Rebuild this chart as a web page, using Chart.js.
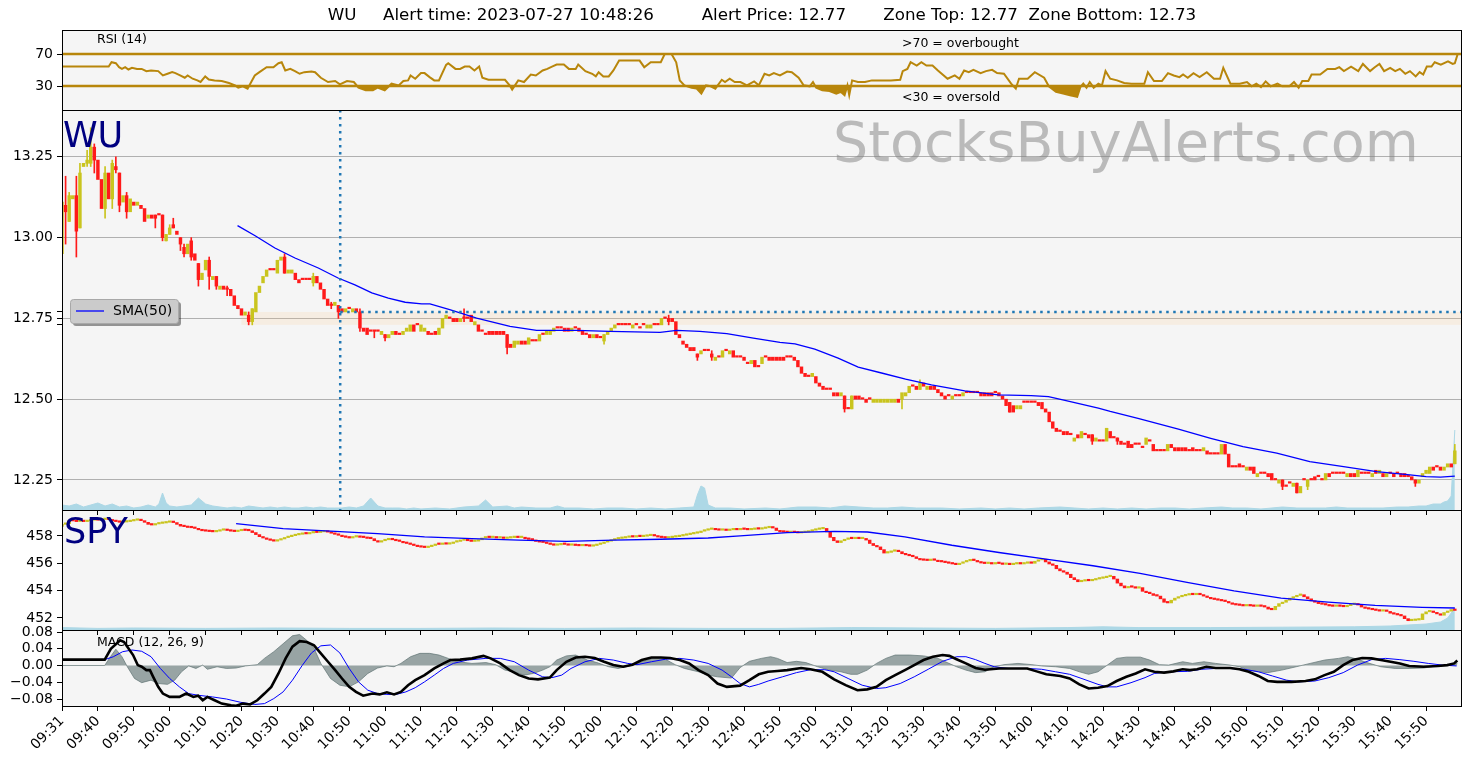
<!DOCTYPE html>
<html>
<head>
<meta charset="utf-8">
<title>WU alert chart</title>
<script src="https://cdn.jsdelivr.net/npm/chart.js@4.4.1/dist/chart.umd.min.js"></script>
<style>
  html, body { margin: 0; padding: 0; background: #fff; }
  #wrap { position: relative; width: 1476px; height: 768px; }
  #wrap canvas { position: absolute; left: 0; top: 0; }
</style>
</head>
<body>
<div id="wrap">
  <canvas id="macdChart" width="1476" height="768"></canvas>
  <canvas id="spyChart" width="1476" height="768"></canvas>
  <canvas id="wuChart" width="1476" height="768"></canvas>
  <canvas id="rsiChart" width="1476" height="768"></canvas>
</div>
<script>
// x axis is minutes after 09:30
const tickMinutes = [0,10,20,30,40,50,60,70,80,90,100,110,120,130,140,150,160,170,180,190,
  200,210,220,230,240,250,260,270,280,290,300,310,320,330,340,350,360,370,380];
const tickLabels = ['09:31','09:40','09:50','10:00','10:10','10:20','10:30','10:40','10:50','11:00',
  '11:10','11:20','11:30','11:40','11:50','12:00','12:10','12:20','12:30','12:40','12:50','13:00',
  '13:10','13:20','13:30','13:40','13:50','14:00','14:10','14:20','14:30','14:40','14:50','15:00',
  '15:10','15:20','15:30','15:40','15:50'];

const titleText = 'WU     Alert time: 2023-07-27 10:48:26         Alert Price: 12.77       Zone Top: 12.77  Zone Bottom: 12.73';
const alertMinute = 77.5;
const alertPrice = 12.77;
const zoneTop = 12.77;
const zoneBottom = 12.73;
const zoneStartMinute = 50;

// WU one-minute candles
const wuOpen = [
  12.95,13.10,13.05,13.12,13.13,13.03,13.22,13.23,13.23,13.28,
  13.24,13.18,13.09,13.20,13.12,13.22,13.20,13.11,13.13,13.08,
  13.11,13.10,13.10,13.09,13.06,13.07,13.07,13.07,13.07,12.99,
  13.01,13.04,13.02,13.00,12.97,12.95,12.99,12.95,12.92,12.87,
  12.90,12.93,12.87,12.88,12.84,12.85,12.84,12.84,12.82,12.79,
  12.78,12.76,12.76,12.74,12.77,12.83,12.86,12.88,12.90,12.90,
  12.89,12.93,12.94,12.89,12.89,12.89,12.87,12.87,12.87,12.87,
  12.86,12.88,12.86,12.84,12.81,12.79,12.79,12.79,12.78,12.77,
  12.78,12.77,12.78,12.77,12.72,12.72,12.71,12.71,12.71,12.70,
  12.70,12.69,12.70,12.71,12.70,12.70,12.71,12.71,12.73,12.73,
  12.71,12.71,12.71,12.70,12.71,12.70,12.72,12.75,12.75,12.75,
  12.75,12.74,12.75,12.75,12.76,12.73,12.73,12.71,12.70,12.71,
  12.71,12.71,12.71,12.71,12.70,12.67,12.66,12.67,12.68,12.68,
  12.67,12.68,12.68,12.68,12.70,12.70,12.70,12.71,12.72,12.72,
  12.72,12.72,12.71,12.72,12.72,12.71,12.70,12.70,12.69,12.70,
  12.69,12.68,12.70,12.71,12.72,12.73,12.73,12.73,12.73,12.72,
  12.73,12.72,12.73,12.72,12.72,12.73,12.73,12.73,12.75,12.75,
  12.75,12.74,12.70,12.68,12.67,12.66,12.66,12.64,12.64,12.65,
  12.65,12.64,12.62,12.63,12.63,12.65,12.64,12.65,12.63,12.63,
  12.63,12.61,12.61,12.62,12.60,12.61,12.63,12.63,12.63,12.63,
  12.63,12.63,12.63,12.63,12.63,12.62,12.60,12.58,12.57,12.57,
  12.57,12.55,12.54,12.53,12.53,12.52,12.52,12.51,12.51,12.47,
  12.47,12.51,12.51,12.50,12.50,12.50,12.49,12.49,12.49,12.49,
  12.49,12.49,12.49,12.50,12.50,12.51,12.52,12.54,12.54,12.53,
  12.55,12.53,12.54,12.54,12.53,12.52,12.51,12.51,12.50,12.51,
  12.51,12.51,12.52,12.52,12.52,12.52,12.52,12.52,12.52,12.52,
  12.52,12.52,12.51,12.50,12.49,12.48,12.47,12.47,12.49,12.49,
  12.49,12.49,12.49,12.49,12.47,12.46,12.43,12.41,12.40,12.40,
  12.40,12.39,12.37,12.39,12.38,12.39,12.39,12.39,12.37,12.37,
  12.37,12.37,12.40,12.38,12.38,12.37,12.36,12.37,12.36,12.36,
  12.36,12.35,12.36,12.37,12.36,12.34,12.34,12.34,12.34,12.36,
  12.35,12.35,12.35,12.35,12.34,12.35,12.34,12.34,12.34,12.34,
  12.33,12.33,12.33,12.33,12.36,12.33,12.29,12.29,12.30,12.29,
  12.28,12.29,12.29,12.26,12.27,12.27,12.27,12.27,12.25,12.24,
  12.25,12.23,12.24,12.23,12.24,12.21,12.25,12.23,12.25,12.26,
  12.26,12.25,12.25,12.27,12.27,12.27,12.27,12.27,12.26,12.27,
  12.27,12.26,12.27,12.27,12.27,12.26,12.28,12.27,12.27,12.26,
  12.27,12.27,12.27,12.27,12.27,12.26,12.26,12.25,12.24,12.26,
  12.27,12.27,12.29,12.29,12.29,12.28,12.29,12.30,12.30
];
const wuClose = [
  13.11,13.08,13.13,13.13,13.02,13.20,13.23,13.24,13.28,13.24,
  13.18,13.09,13.20,13.12,13.23,13.21,13.10,13.13,13.08,13.12,
  13.10,13.11,13.09,13.05,13.07,13.06,13.06,13.07,13.00,13.01,
  13.03,13.03,13.01,12.98,12.95,12.98,12.94,12.93,12.87,12.89,
  12.93,12.88,12.88,12.85,12.85,12.84,12.84,12.82,12.79,12.78,
  12.76,12.77,12.74,12.78,12.83,12.85,12.88,12.90,12.90,12.90,
  12.93,12.94,12.89,12.90,12.90,12.87,12.86,12.87,12.87,12.87,
  12.88,12.86,12.84,12.81,12.79,12.79,12.80,12.77,12.77,12.78,
  12.78,12.78,12.77,12.72,12.71,12.70,12.71,12.71,12.71,12.71,
  12.69,12.70,12.71,12.70,12.70,12.71,12.72,12.73,12.71,12.73,
  12.73,12.72,12.70,12.70,12.70,12.72,12.75,12.76,12.75,12.74,
  12.74,12.75,12.75,12.75,12.74,12.74,12.71,12.71,12.70,12.70,
  12.70,12.70,12.70,12.70,12.66,12.66,12.68,12.68,12.67,12.67,
  12.69,12.68,12.68,12.70,12.70,12.71,12.71,12.72,12.72,12.72,
  12.71,12.71,12.72,12.72,12.71,12.70,12.70,12.69,12.70,12.69,
  12.69,12.70,12.71,12.72,12.73,12.73,12.73,12.73,12.73,12.73,
  12.73,12.72,12.73,12.73,12.73,12.73,12.73,12.75,12.75,12.74,
  12.74,12.70,12.69,12.67,12.66,12.65,12.65,12.63,12.65,12.65,
  12.65,12.63,12.63,12.63,12.65,12.65,12.65,12.63,12.63,12.63,
  12.62,12.61,12.62,12.60,12.60,12.63,12.63,12.62,12.62,12.62,
  12.62,12.62,12.63,12.63,12.62,12.60,12.58,12.57,12.57,12.58,
  12.55,12.54,12.53,12.53,12.53,12.51,12.51,12.52,12.47,12.47,
  12.51,12.50,12.50,12.50,12.49,12.50,12.50,12.50,12.50,12.50,
  12.50,12.50,12.50,12.49,12.52,12.52,12.54,12.54,12.53,12.55,
  12.54,12.54,12.53,12.53,12.52,12.51,12.50,12.51,12.51,12.51,
  12.51,12.52,12.52,12.52,12.52,12.52,12.51,12.51,12.51,12.51,
  12.52,12.51,12.50,12.48,12.46,12.46,12.48,12.48,12.49,12.49,
  12.49,12.49,12.48,12.47,12.46,12.43,12.41,12.40,12.40,12.39,
  12.39,12.39,12.38,12.38,12.40,12.39,12.38,12.37,12.38,12.37,
  12.37,12.41,12.38,12.38,12.37,12.36,12.36,12.35,12.35,12.36,
  12.36,12.35,12.38,12.37,12.34,12.34,12.34,12.34,12.36,12.35,
  12.34,12.34,12.34,12.34,12.34,12.34,12.34,12.34,12.35,12.33,
  12.33,12.33,12.33,12.36,12.33,12.29,12.29,12.29,12.29,12.29,
  12.29,12.28,12.27,12.27,12.27,12.27,12.26,12.25,12.25,12.25,
  12.23,12.23,12.24,12.24,12.21,12.23,12.25,12.25,12.25,12.25,
  12.26,12.25,12.27,12.26,12.27,12.27,12.27,12.27,12.27,12.26,
  12.26,12.28,12.27,12.27,12.27,12.27,12.27,12.28,12.26,12.27,
  12.27,12.26,12.27,12.26,12.26,12.26,12.25,12.24,12.25,12.27,
  12.28,12.29,12.28,12.29,12.28,12.29,12.30,12.29,12.34
];
// visible WU wicks: minute, high, low
const wuWickMin = [0,1,2,4,5,7,8,9,12,14,15,16,18,26,28,29,30,31,33,34,36,38,41,43,46,52,53,62,70,75,
  77,83,87,90,112,124,151,169,177,181,218,220,234,239,264,287,294,340,344,347,377,388];
const wuWickHigh = [13.12,13.19,13.14,13.19,13.23,13.27,13.34,13.29,13.22,13.24,13.25,13.20,13.14,13.07,
  13.07,13.01,13.04,13.06,13.00,12.98,13.00,12.92,12.94,12.88,12.85,12.77,12.78,12.95,12.89,12.80,
  12.79,12.78,12.71,12.70,12.78,12.70,12.70,12.76,12.64,12.65,12.51,12.51,12.50,12.56,12.49,12.39,
  12.38,12.25,12.24,12.25,12.25,12.36];
const wuWickLow = [12.94,12.98,13.05,12.94,13.03,13.22,13.22,13.20,13.06,13.09,13.20,13.08,13.06,13.03,
  12.99,12.99,13.01,13.03,12.96,12.94,12.93,12.85,12.84,12.84,12.82,12.73,12.73,12.89,12.85,12.78,
  12.75,12.71,12.69,12.68,12.74,12.64,12.67,12.73,12.62,12.62,12.46,12.47,12.47,12.53,12.46,12.36,
  12.36,12.22,12.21,12.22,12.23,12.30];
const wuSmaMin = [48.9,53.8,59.3,64.9,71.4,76.9,81.6,86.3,90.9,95.6,100.2,102.5,108,115.5,124.8,132.2,
  143.4,152.6,166.6,171.2,177.7,185.2,192.6,200,204.2,209.7,216.2,221.8,228.3,235,242.2,251.5,260.8,
  270,274.8,279.4,288.7,292,300,311,320,329,338.4,347.6,357,366.2,375.5,380,384,388];
const wuSmaVal = [13.037,13.006,12.968,12.937,12.906,12.875,12.854,12.829,12.813,12.800,12.795,12.795,
  12.777,12.751,12.725,12.713,12.713,12.710,12.707,12.713,12.710,12.703,12.689,12.676,12.671,12.655,
  12.627,12.599,12.581,12.562,12.544,12.526,12.513,12.511,12.508,12.496,12.472,12.462,12.440,12.407,
  12.379,12.353,12.333,12.307,12.291,12.276,12.266,12.260,12.259,12.262];
// volume, thousands of shares
const wuVolMin = [0,2,4,6,8,10,12,14,16,18,20,22,24,26,27,28,29,30,32,34,36,38,40,42,44,46,48,50,52,54,
  56,58,60,62,64,66,68,70,72,74,76,78,80,82,84,86,88,90,92,94,96,98,100,104,108,112,116,118,120,124,
  126,128,132,136,138,140,144,148,152,156,160,164,168,172,176,177,178,179,180,182,186,190,196,200,205,
  210,214,218,222,226,230,234,238,242,245,250,256,260,264,268,272,278,282,286,290,294,298,302,306,310,
  314,318,323,326,330,334,340,344,348,352,355,358,362,365,368,372,375,378,380,382,384,385,386,387,388];
const wuVolVal = [10,8,12,6,10,14,8,12,6,8,4,6,10,6,12,34,14,8,6,8,10,24,12,8,6,4,6,4,8,6,
  4,6,4,6,4,4,6,4,6,4,4,4,6,4,8,24,8,4,4,4,2,4,2,4,2,6,8,20,6,8,
  4,6,4,4,8,4,4,2,4,4,2,4,2,4,6,30,48,44,10,4,4,2,4,2,6,
  6,4,8,6,4,4,6,4,4,4,2,4,2,4,2,4,6,4,2,4,2,4,2,4,4,
  2,4,6,4,4,2,6,4,4,4,6,4,4,4,4,6,6,8,8,12,12,16,18,28,160];

// SPY one-minute candles
const spyOpen = [
  458.70,458.85,458.90,459.15,459.10,459.05,459.10,459.05,459.10,459.15,
  459.20,459.15,459.20,459.25,459.20,459.10,459.05,459.00,459.02,459.05,
  459.10,459.15,459.18,459.12,459.00,458.85,458.80,458.88,458.92,458.95,
  459.00,459.05,458.98,458.85,458.72,458.68,458.62,458.60,458.55,458.45,
  458.38,458.35,458.32,458.30,458.35,458.42,458.45,458.40,458.35,458.32,
  458.38,458.42,458.40,458.38,458.25,458.10,457.95,457.85,457.75,457.68,
  457.62,457.70,457.78,457.88,457.95,458.02,458.08,458.12,458.20,458.15,
  458.22,458.28,458.25,458.30,458.32,458.28,458.20,458.12,458.05,457.95,
  457.90,457.85,457.92,457.95,457.90,457.88,457.82,457.80,457.65,457.55,
  457.65,457.72,457.80,457.72,457.65,457.60,457.50,457.45,457.38,457.30,
  457.22,457.18,457.15,457.22,457.30,457.40,457.38,457.42,457.40,457.45,
  457.55,457.60,457.68,457.72,457.65,457.60,457.62,457.72,457.85,457.92,
  457.88,457.92,457.85,457.88,457.82,457.85,457.88,457.92,457.88,457.90,
  457.80,457.75,457.70,457.60,457.55,457.52,457.45,457.38,457.32,457.35,
  457.40,457.38,457.32,457.35,457.30,457.28,457.32,457.28,457.25,457.30,
  457.38,457.45,457.55,457.62,457.70,457.78,457.82,457.85,457.90,457.95,
  457.92,457.98,457.95,457.98,458.02,458.05,458.00,457.92,457.88,457.85,
  457.88,457.92,457.95,458.00,458.05,458.10,458.15,458.20,458.25,458.35,
  458.42,458.48,458.50,458.45,458.42,458.45,458.40,458.45,458.48,458.45,
  458.50,458.48,458.45,458.48,458.52,458.50,458.55,458.60,458.62,458.58,
  458.40,458.30,458.28,458.25,458.28,458.25,458.22,458.25,458.28,458.35,
  458.42,458.48,458.52,458.55,458.30,457.90,457.65,457.52,457.65,457.75,
  457.82,457.80,457.85,457.80,457.82,457.70,457.45,457.30,457.20,457.00,
  456.75,456.80,456.88,456.92,456.85,456.70,456.62,456.55,456.48,456.35,
  456.25,456.22,456.20,456.28,456.22,456.12,456.10,456.05,456.00,455.95,
  455.90,456.00,456.10,456.18,456.22,456.20,456.10,456.02,455.98,456.00,
  455.95,456.00,455.98,455.92,455.95,455.90,455.95,456.00,455.95,456.00,
  456.05,456.00,456.15,456.25,456.30,456.10,455.95,455.85,455.60,455.45,
  455.35,455.20,454.95,454.80,454.65,454.70,454.75,454.72,454.78,454.85,
  454.90,454.95,455.02,455.05,454.85,454.55,454.35,454.20,454.30,454.25,
  454.18,454.22,453.95,453.85,453.78,453.65,453.60,453.40,453.15,453.10,
  453.30,453.45,453.55,453.62,453.68,453.72,453.70,453.75,453.70,453.60,
  453.50,453.40,453.35,453.30,453.25,453.20,453.10,453.00,452.95,452.92,
  452.88,452.92,452.88,452.85,452.90,452.85,452.80,452.65,452.60,452.85,
  453.05,453.15,453.30,453.45,453.55,453.65,453.70,453.55,453.40,453.25,
  453.15,453.05,453.00,452.95,452.88,452.85,452.90,452.85,452.82,452.90,
  452.98,453.02,452.95,452.80,452.70,452.65,452.60,452.55,452.50,452.55,
  452.48,452.35,452.28,452.22,452.15,451.95,451.80,451.82,451.85,451.88,
  452.30,452.45,452.48,452.40,452.30,452.20,452.40,452.50,452.62
];
const spyClose = [
  458.85,458.90,459.15,459.10,459.05,459.10,459.05,459.10,459.15,459.20,
  459.15,459.20,459.25,459.20,459.10,459.05,459.00,459.02,459.05,459.10,
  459.15,459.18,459.12,459.00,458.85,458.80,458.88,458.92,458.95,459.00,
  459.05,458.98,458.85,458.72,458.68,458.62,458.60,458.55,458.45,458.38,
  458.35,458.32,458.30,458.35,458.42,458.45,458.40,458.35,458.32,458.38,
  458.42,458.40,458.38,458.25,458.10,457.95,457.85,457.75,457.68,457.62,
  457.70,457.78,457.88,457.95,458.02,458.08,458.12,458.20,458.15,458.22,
  458.28,458.25,458.30,458.32,458.28,458.20,458.12,458.05,457.95,457.90,
  457.85,457.92,457.95,457.90,457.88,457.82,457.80,457.65,457.55,457.65,
  457.72,457.80,457.72,457.65,457.60,457.50,457.45,457.38,457.30,457.22,
  457.18,457.15,457.22,457.30,457.40,457.38,457.42,457.40,457.45,457.55,
  457.60,457.68,457.72,457.65,457.60,457.62,457.72,457.85,457.92,457.88,
  457.92,457.85,457.88,457.82,457.85,457.88,457.92,457.88,457.90,457.80,
  457.75,457.70,457.60,457.55,457.52,457.45,457.38,457.32,457.35,457.40,
  457.38,457.32,457.35,457.30,457.28,457.32,457.28,457.25,457.30,457.38,
  457.45,457.55,457.62,457.70,457.78,457.82,457.85,457.90,457.95,457.92,
  457.98,457.95,457.98,458.02,458.05,458.00,457.92,457.88,457.85,457.88,
  457.92,457.95,458.00,458.05,458.10,458.15,458.20,458.25,458.35,458.42,
  458.48,458.50,458.45,458.42,458.45,458.40,458.45,458.48,458.45,458.50,
  458.48,458.45,458.48,458.52,458.50,458.55,458.60,458.62,458.58,458.40,
  458.30,458.28,458.25,458.28,458.25,458.22,458.25,458.28,458.35,458.42,
  458.48,458.52,458.55,458.30,457.90,457.65,457.52,457.65,457.75,457.82,
  457.80,457.85,457.80,457.82,457.70,457.45,457.30,457.20,457.00,456.75,
  456.80,456.88,456.92,456.85,456.70,456.62,456.55,456.48,456.35,456.25,
  456.22,456.20,456.28,456.22,456.12,456.10,456.05,456.00,455.95,455.90,
  456.00,456.10,456.18,456.22,456.20,456.10,456.02,455.98,456.00,455.95,
  456.00,455.98,455.92,455.95,455.90,455.95,456.00,455.95,456.00,456.05,
  456.00,456.15,456.25,456.30,456.10,455.95,455.85,455.60,455.45,455.35,
  455.20,454.95,454.80,454.65,454.70,454.75,454.72,454.78,454.85,454.90,
  454.95,455.02,455.05,454.85,454.55,454.35,454.20,454.30,454.25,454.18,
  454.22,453.95,453.85,453.78,453.65,453.60,453.40,453.15,453.10,453.30,
  453.45,453.55,453.62,453.68,453.72,453.70,453.75,453.70,453.60,453.50,
  453.40,453.35,453.30,453.25,453.20,453.10,453.00,452.95,452.92,452.88,
  452.92,452.88,452.85,452.90,452.85,452.80,452.65,452.60,452.85,453.05,
  453.15,453.30,453.45,453.55,453.65,453.70,453.55,453.40,453.25,453.15,
  453.05,453.00,452.95,452.88,452.85,452.90,452.85,452.82,452.90,452.98,
  453.02,452.95,452.80,452.70,452.65,452.60,452.55,452.50,452.55,452.48,
  452.35,452.28,452.22,452.15,451.95,451.80,451.82,451.85,451.88,452.30,
  452.45,452.48,452.40,452.30,452.20,452.40,452.50,452.62,452.55
];
const spySmaMin = [48.5,61.6,74.8,87.9,101,114.2,127.3,140.5,153.6,166.8,180,188.9,202,215.1,224.4,
  234.8,247.9,261,274.1,287.2,300.3,313.4,326.5,339.6,352.7,365.8,378.9,388];
const spySmaVal = [458.90,458.53,458.36,458.17,457.93,457.81,457.69,457.61,457.69,457.76,457.85,458.00,
  458.24,458.34,458.29,457.93,457.32,456.79,456.31,455.82,455.27,454.61,453.99,453.45,453.16,452.92,
  452.78,452.73];
const spyVolMin = [0,10,20,40,60,80,100,120,140,160,180,200,220,240,260,280,290,300,320,340,360,370,380,384,386,388];
const spyVolVal = [60,40,50,40,50,40,40,50,40,50,40,40,60,50,40,60,80,60,60,70,80,100,150,200,300,550];

// RSI (14)
const rsiMin = [0,13,13.8,15,15.9,16.7,17.6,18.5,19.5,20.9,22.2,23.5,24.8,26.8,28.1,29.4,30.7,31.6,32.9,
  34.2,35,36.4,37.7,38.6,39.9,40.9,42.5,44.5,46.5,48.2,49.1,50.4,51.7,53.7,55,57,58.9,60.3,61.2,62.2,
  63.6,64.9,66.2,67.5,69.5,70.5,72.1,74.1,76.1,77.4,79.4,81.3,82.6,84.6,86.6,87.9,89.9,91.8,93.8,95.1,
  96.4,97.1,98.4,100,101,102.4,103.7,105,107,107.6,109.6,110.9,112.2,113.5,114.9,116.2,117.1,118.8,
  120.8,123.4,124.7,125.4,127.1,128.7,130.6,132,133.9,135.2,136.5,137.8,139.8,141.2,143.1,143.8,145.8,
  147.7,148.7,149.5,150.8,152.3,153.6,155.2,157.6,160.9,162.2,164,166.8,167.9,169.8,171.1,172.1,173.4,
  175.4,176.8,178.1,179.4,180.7,182,183.8,184.7,186,187.4,189,190.8,192.8,194.1,195.7,197,198.3,200,
  202,203.3,205.2,206.6,208.3,209.2,210.1,211.8,213.8,215.7,217,218,218.8,219.3,220.1,221.7,223.7,
  225.6,230.9,233.5,234.2,235.5,236.4,238.1,239.4,240.8,242.5,244,246.7,248.7,250,251.3,252.6,253.9,
  255.9,257.4,259.1,260.5,262.4,264.4,265.7,266.6,269,271,273.6,274.9,276.9,278.9,280.8,282.8,283.7,
  284.5,285.4,286.3,287.4,288.7,289.7,290.7,292,293.9,295.9,297.9,301.5,302.5,304.2,306.4,308.1,309.7,
  311.3,312.3,313.6,315.2,316.9,318.9,320.9,322.6,323.5,325.5,328.1,330.1,331.4,332.7,334,335.3,336.7,
  338.6,339.9,341.9,343.2,344.5,345.5,347.2,348.1,350.5,352.5,354.7,355.8,357.1,359.1,361.1,362.4,
  364.4,365.7,367,368.3,370,371.4,372.7,374.2,375.5,377.1,378.2,379.2,380.2,381.5,382.4,384.1,386.1,
  387.4,388,388.8];
const rsiVal = [54.3,54.3,59.7,58.5,53.5,51.4,53.5,50.6,52.7,51.4,51.4,48.6,49.4,48.6,43.2,45.3,47.3,46.1,
  43.2,40.3,43.2,39.1,37,35,42,38.2,37,36.2,33.7,30.8,27.9,29.6,26.7,43.2,47.3,53.5,53.5,58.5,59.7,
  49.4,51.4,48.6,45.3,47.3,48.1,47.3,40.3,35,36.2,32.1,36.2,35,27.9,24.6,24.6,27.9,24.6,32.9,30.8,36.2,
  37,43.2,39.1,46.1,46.1,41.1,37,37,56.4,58.5,51.4,51.4,54.3,54.3,49.4,54.3,40.3,37.8,
  37.8,37.8,30.8,25.5,37,35,44.4,43.2,49.4,51.4,54.3,56.8,56.8,51.4,51.4,56.8,48.6,
  45.3,42,47.3,42,42,49.4,61.8,61.8,61.8,53.5,59.7,59.7,70,70,59.7,37,30.8,
  27.9,26.7,20.5,30.8,29.6,26.7,37.8,35,39.1,35,35,30.8,35.8,30.8,45.3,43.2,46.1,43.2,
  48.1,47.3,40.3,30.8,29.6,35,27.9,24.6,23.8,20.5,22.6,18.5,30.8,18.5,37,35,35,
  37,37,37.8,48.6,51.4,59.7,55.6,59.7,55.6,55.6,49.4,39.1,43.2,39.1,49.4,47.3,50.2,
  46.1,48.6,50.2,46.1,45.3,32.9,26.7,39.1,39.1,47.3,40.3,29.6,22.6,20.5,18.5,16.4,28.7,
  32.9,27.9,35,27.9,32.9,30.8,48.6,39.1,37,33.7,32.9,32.9,47.3,36.2,36.2,46.1,43.2,
  41.1,44.4,40.3,46.1,41.1,47.3,39.1,39.1,52.7,32.9,32.9,35,29.6,32.9,28.7,35.8,29.6,
  32.9,29.6,29.6,35,27.9,36.2,36.2,44.4,44.4,51.4,51.4,53.5,48.6,54.3,48.6,57.6,
  48.6,53.5,57.6,48.6,52.7,48.6,51.4,45.3,48.6,42,47.3,44.4,54.3,54.3,59.7,56.8,60.9,
  57.6,58.5,70];
const rsiUpper = 70;
const rsiLower = 30;

// MACD (12, 26, 9)
const macdMin = [0,11.9,13.6,16.2,17.3,18.2,19.8,21.1,22.2,23.5,24.5,25.4,26.8,28.1,30,32.7,34.6,36.6,
  37.9,39.2,40.5,42.5,44.5,47.1,48.5,50.4,52.4,54.4,56.4,58.3,60.3,62.3,64.2,66.2,68.2,70.2,72.1,74.1,
  76.1,78,80,81.9,83.9,86.5,88.5,90.5,92.5,94.4,96.4,98.4,101,103.7,106.3,108.2,110.9,114.2,117.4,
  119.4,122.1,124.7,127.3,130,132.6,135.9,137.8,140.5,143.1,145.7,148.4,151,153.6,156.3,158.9,161.5,
  164.2,166.8,169.4,172.1,174.7,177.3,180,182.6,185.2,188.9,191.5,194.1,196.7,199.3,202,205.9,208.5,
  211.8,215.1,218.3,221.6,224.3,226.9,229.5,232.1,234.8,237.4,240,242.6,245.3,247.2,249.2,251.8,254.5,
  257.1,261,265,268.9,271.5,274.2,278.1,280.7,283.4,286,288.6,291.2,293.8,296.5,299.1,301.7,304.3,307,
  309.6,312.2,314.2,316.2,318.8,321.4,325.4,328,330.6,333.3,335.9,338.5,342.5,346.4,349,351.7,354.3,
  356.9,359.5,362.2,364.8,367.4,370.1,372.7,375.3,379.3,383.2,385.9,387.8,388.7];
const macdVal = [0.014,0.014,0.040,0.060,0.056,0.045,0.025,0.001,-0.003,-0.011,-0.011,-0.027,-0.051,
  -0.067,-0.075,-0.075,-0.067,-0.075,-0.072,-0.083,-0.075,-0.083,-0.091,-0.095,-0.096,-0.091,-0.093,
  -0.083,-0.067,-0.051,-0.019,0.017,0.045,0.058,0.056,0.048,0.029,0.009,-0.011,-0.031,-0.051,-0.063,
  -0.072,-0.067,-0.069,-0.064,-0.069,-0.063,-0.047,-0.035,-0.023,-0.007,0.005,0.013,0.014,0.017,0.023,
  0.017,0.005,-0.011,-0.023,-0.031,-0.033,-0.029,-0.011,0.009,0.019,0.021,0.018,0.009,0.001,-0.003,
  0.002,0.013,0.019,0.019,0.018,0.013,0.005,-0.011,-0.023,-0.043,-0.051,-0.048,-0.035,-0.021,-0.015,
  -0.013,-0.011,-0.006,-0.009,-0.015,-0.033,-0.047,-0.059,-0.057,-0.051,-0.035,-0.023,-0.011,0.001,
  0.013,0.021,0.025,0.023,0.015,0.005,-0.006,-0.010,-0.007,-0.007,-0.007,-0.014,-0.021,-0.025,-0.031,
  -0.045,-0.055,-0.053,-0.049,-0.037,-0.027,-0.019,-0.009,-0.015,-0.017,-0.014,-0.009,-0.011,-0.009,
  -0.003,-0.006,-0.006,-0.009,-0.015,-0.025,-0.037,-0.039,-0.039,-0.037,-0.033,-0.023,-0.015,0.001,
  0.013,0.018,0.017,0.013,0.009,0.005,-0.001,-0.003,-0.001,0.001,0.005,0.012];
const signalMin = [0,11.9,14.3,16.9,19.5,22.2,24.8,27.4,30,32.7,35.3,37.9,41.9,45.8,49.8,53.7,56.4,59,
  61.6,64.2,66.9,69.5,72.1,74.8,77.4,80,82.6,85.2,87.9,90.5,93.1,95.8,98.4,101,103.7,106.3,109,112.9,
  118.1,122.1,126,130,133.9,136.5,139.2,141.8,145.7,149.7,153.6,157.6,160.2,164.2,168.1,172.1,176,180,
  183.9,186.5,188.9,191.5,194.1,196.7,200.7,204.6,208.5,212.5,215.1,219,222.9,226.9,229.5,233.5,237.4,
  241.3,245.3,249.2,251.8,254.5,257.1,259.7,263.7,268.9,272.9,276.8,280.7,284.7,288.6,291.2,293.8,
  297.8,301.7,304.3,308.3,313.5,317.5,321.4,325.4,329.3,333.3,337.2,341.1,344.4,349,352.9,356.9,360.9,
  364.8,368.7,372.7,376.6,380.6,384.5,388.5];
const signalVal = [0.014,0.014,0.021,0.033,0.037,0.034,0.021,-0.007,-0.031,-0.051,-0.067,-0.071,-0.075,
  -0.080,-0.088,-0.093,-0.091,-0.079,-0.063,-0.035,0.000,0.030,0.047,0.049,0.030,-0.007,-0.039,-0.059,
  -0.067,-0.069,-0.069,-0.063,-0.053,-0.039,-0.023,-0.007,0.005,0.013,0.017,0.017,0.009,-0.011,-0.027,
  -0.029,-0.023,-0.007,0.009,0.017,0.013,0.005,0.002,0.009,0.015,0.017,0.013,0.005,-0.011,-0.027,
  -0.043,-0.051,-0.045,-0.037,-0.027,-0.017,-0.010,-0.010,-0.015,-0.031,-0.047,-0.055,-0.053,-0.043,
  -0.027,-0.009,0.010,0.021,0.021,0.014,0.005,-0.003,-0.007,-0.007,-0.009,-0.015,-0.021,-0.033,-0.045,
  -0.051,-0.051,-0.041,-0.029,-0.019,-0.015,-0.014,-0.009,-0.007,-0.007,-0.009,-0.015,-0.025,-0.035,
  -0.039,-0.037,-0.029,-0.017,0.001,0.014,0.017,0.014,0.010,0.005,0.001,-0.001];
const histMin = [0,11.9,13.5,15,16.7,18.2,20.2,22.2,24.8,26.8,29.4,31.4,33.3,35.3,37.3,39.2,40.5,43.2,
  45.8,48.5,51.1,54.4,56.4,59,61.6,64.2,66.2,68.2,70.2,72.1,74.8,77.4,80,82.6,85.2,87.9,90.5,92.5,94.4,
  97.1,99.7,102.4,105,107.6,110.3,114.2,118.1,120.8,123.4,126,128.7,131.3,133.9,135.9,137.8,140.5,143.1,
  146.4,149,152.3,154.9,158.2,161.5,164.8,168.1,170.8,173.4,177.3,180,182.6,186.5,188.9,191.5,194.8,
  197.4,199.3,202,204.6,207.2,210.5,213.8,217,219.7,221.6,224.3,226.9,229.5,232.1,236.1,240,244,246.6,
  249.2,251.8,254.5,257.1,259.7,262.4,266.3,270.2,272.9,276.8,280.7,283.4,286,288.6,291.2,293.8,296.5,
  300.4,303,305.7,308.3,312.2,314.9,318.1,321.4,325.4,328,330.6,333.3,335.9,339.8,343.8,347.7,351.7,
  355.6,358.2,360.9,363.5,367.4,371.4,375.3,379.3,383.2,387.2,388.7];
const histVal = [0,0,0.021,0.039,0.021,-0.003,-0.031,-0.041,-0.035,-0.043,-0.045,-0.035,-0.015,-0.001,
  -0.007,0.001,-0.009,-0.003,-0.007,-0.006,-0.001,0.002,0.017,0.033,0.052,0.071,0.074,0.060,0.041,0.005,
  -0.031,-0.047,-0.051,-0.039,-0.019,-0.006,-0.001,-0.003,0.005,0.021,0.029,0.029,0.025,0.017,0.009,
  0.005,0.007,0.002,-0.011,-0.015,-0.023,-0.019,-0.011,-0.003,0.013,0.023,0.025,0.013,0.007,-0.003,
  -0.007,-0.001,0.009,0.018,0.015,0.002,-0.007,-0.015,-0.023,-0.027,-0.030,-0.005,0.010,0.017,0.021,
  0.017,0.007,0.010,0.007,-0.003,-0.011,-0.015,-0.021,-0.021,-0.011,0.005,0.017,0.025,0.025,0.023,
  0.017,0.007,-0.003,-0.011,-0.017,-0.015,-0.003,0.002,0.005,0.002,-0.001,-0.003,-0.007,-0.015,-0.021,
  -0.015,0.001,0.017,0.020,0.020,0.013,0.002,0.001,0.009,0.005,0.009,0.005,0.001,-0.003,-0.011,-0.015,
  -0.017,-0.011,-0.003,0.005,0.013,0.017,0.021,0.015,0.007,-0.003,-0.007,-0.007,-0.006,-0.001,0.002,
  0.005];

// ---------- drawing ----------
const FONT = 'DejaVu Sans';
const UP = '#c9c41e';
const DOWN = '#ff1a1a';
const VOL = '#add8e6';
const GOLD = '#b8860b';

Chart.defaults.font.family = FONT;
Chart.defaults.font.size = 14;
Chart.defaults.color = '#000';

const pts = (xs, ys) => xs.map((x, i) => ({ x, y: ys[i] }));
const candles = (o, c) => o.map((v, i) => ({ x: i, y: [v, c[i]] }));
const candleColor = ctx => {
  const r = ctx.raw;
  if (!r) return UP;
  return r.y[1] > r.y[0] ? UP : DOWN;
};
const wickColor = ctx => {
  const r = ctx.raw;
  if (!r) return DOWN;
  return wuClose[r.x] > wuOpen[r.x] ? UP : DOWN;
};

function xScale(showLabels, height) {
  return {
    type: 'linear', min: 0, max: 390, offset: false,
    afterBuildTicks: s => { s.ticks = tickMinutes.map(v => ({ value: v })); },
    afterFit: s => { s.height = height; },
    grid: { drawOnChartArea: false, offset: false, color: '#000', tickLength: 5 },
    border: { display: false },
    ticks: {
      display: showLabels, autoSkip: false, minRotation: 45, maxRotation: 45, padding: 2,
      callback: (v, i) => tickLabels[i]
    }
  };
}

function yScale(min, max, values, fmt, gridColor) {
  return {
    type: 'linear', position: 'left', min, max, beginAtZero: false,
    afterBuildTicks: s => { s.ticks = values.map(v => ({ value: v })); },
    afterFit: s => { s.width = 62; },
    grid: { drawOnChartArea: !!gridColor, color: gridColor || '#000', tickColor: '#000', tickLength: 5 },
    border: { display: false },
    ticks: { autoSkip: false, padding: 4, callback: fmt }
  };
}

function layout(top, bottom, xh) {
  return { padding: { top, left: 0, right: 14, bottom: 768 - bottom - xh } };
}

const common = {
  responsive: false,
  animation: false,
  devicePixelRatio: 1,
  plugins: { legend: { display: false }, tooltip: { enabled: false } }
};

const panelBg = {
  id: 'panelBg',
  beforeDraw(chart) {
    const { ctx, chartArea: a } = chart;
    ctx.save();
    ctx.fillStyle = '#f5f5f5';
    ctx.fillRect(a.left, a.top, a.width, a.height);
    ctx.restore();
  },
  afterDraw(chart) {
    const { ctx, chartArea: a } = chart;
    ctx.save();
    ctx.strokeStyle = '#000';
    ctx.lineWidth = 1;
    ctx.strokeRect(a.left + 0.5, a.top + 0.5, a.width - 1, a.height);
    ctx.restore();
  }
};

function bigLabel(ctx, text, x, y) {
  ctx.font = '35px "' + FONT + '"';
  ctx.fillStyle = '#000080';
  ctx.textAlign = 'left';
  ctx.textBaseline = 'alphabetic';
  ctx.fillText(text, x, y);
}

// ---- RSI panel ----
new Chart(document.getElementById('rsiChart'), {
  type: 'line',
  data: {
    datasets: [
      { data: pts(rsiMin, rsiVal), borderColor: GOLD, borderWidth: 2, pointRadius: 0,
        fill: { target: { value: rsiLower }, above: 'rgba(0,0,0,0)', below: GOLD } },
      { data: pts(rsiMin, rsiVal), borderWidth: 0, pointRadius: 0,
        fill: { target: { value: rsiUpper }, above: GOLD, below: 'rgba(0,0,0,0)' } }
    ]
  },
  options: {
    ...common,
    layout: layout(30, 110, 0),
    scales: {
      x: { type: 'linear', min: 0, max: 390, display: false },
      y: yScale(0, 100, [rsiLower, rsiUpper], v => String(v), null)
    }
  },
  plugins: [panelBg, {
    id: 'rsiDecor',
    afterDatasetsDraw(chart) {
      const { ctx, chartArea: a, scales: { y } } = chart;
      ctx.save();
      ctx.strokeStyle = GOLD;
      ctx.lineWidth = 2.5;
      [rsiUpper, rsiLower].forEach(v => {
        const py = Math.round(y.getPixelForValue(v));
        ctx.beginPath(); ctx.moveTo(a.left, py); ctx.lineTo(a.right, py); ctx.stroke();
      });
      ctx.fillStyle = '#000';
      ctx.textBaseline = 'middle';
      ctx.textAlign = 'left';
      ctx.font = '12.5px "' + FONT + '"';
      ctx.fillText('RSI (14)', 97, 40);
      ctx.fillText('>70 = overbought', 902, 44);
      ctx.fillText('<30 = oversold', 902, 98);
      ctx.font = '16.7px "' + FONT + '"';
      ctx.textAlign = 'center';
      ctx.fillText(titleText, 762, 16);
      ctx.restore();
    }
  }]
});

// ---- WU price panel ----
const zoneTicks = [zoneBottom, zoneTop];
new Chart(document.getElementById('wuChart'), {
  type: 'bar',
  data: {
    datasets: [
      { type: 'line', data: pts(wuSmaMin, wuSmaVal), borderColor: '#0000ff', borderWidth: 1.3,
        pointRadius: 0, order: 0, yAxisID: 'y' },
      { type: 'bar', data: candles(wuOpen, wuClose), backgroundColor: candleColor, borderWidth: 0,
        barThickness: 2.8, minBarLength: 1.5, grouped: false, order: 1, yAxisID: 'y' },
      { type: 'bar', data: wuWickMin.map((m, i) => ({ x: m, y: [wuWickLow[i], wuWickHigh[i]] })),
        backgroundColor: wickColor, borderWidth: 0, barThickness: 1, grouped: false, order: 2, yAxisID: 'y' },
      { type: 'line', data: pts(wuVolMin, wuVolVal), borderColor: VOL, backgroundColor: VOL,
        borderWidth: 1, pointRadius: 0, fill: 'origin', order: 3, yAxisID: 'yv' }
    ]
  },
  options: {
    ...common,
    layout: layout(110, 510, 5),
    scales: {
      x: xScale(false, 5),
      y: yScale(12.157, 13.395, [12.25, 12.5, zoneBottom, 12.75, zoneTop, 13, 13.25],
        v => zoneTicks.includes(v) ? '' : v.toFixed(2),
        c => (c.tick && zoneTicks.includes(c.tick.value)) ? 'rgba(0,0,0,0)' : '#b0b0b0'),
      yv: { type: 'linear', display: false, min: 0, max: 800 }
    }
  },
  plugins: [panelBg, {
    id: 'wuDecor',
    beforeDatasetsDraw(chart) {
      const { ctx, chartArea: a, scales: { x, y } } = chart;
      ctx.save();
      const x0 = x.getPixelForValue(zoneStartMinute);
      const yt = y.getPixelForValue(zoneTop);
      const yb = y.getPixelForValue(zoneBottom);
      ctx.fillStyle = 'rgba(255,200,130,0.16)';
      ctx.fillRect(x0, yt, a.right - x0, yb - yt);
      ctx.font = '55.5px "' + FONT + '"';
      ctx.fillStyle = 'rgba(128,128,128,0.5)';
      ctx.textBaseline = 'alphabetic';
      ctx.fillText('StocksBuyAlerts.com', 833, 161);
      ctx.restore();
    },
    afterDatasetsDraw(chart) {
      const { ctx, chartArea: a, scales: { x, y } } = chart;
      ctx.save();
      ctx.strokeStyle = '#1f77b4';
      ctx.lineWidth = 2.5;
      ctx.setLineDash([2.5, 4.5]);
      const ax = x.getPixelForValue(alertMinute);
      const ay = y.getPixelForValue(alertPrice);
      ctx.beginPath(); ctx.moveTo(ax, a.top); ctx.lineTo(ax, a.bottom); ctx.stroke();
      ctx.beginPath(); ctx.moveTo(ax, ay); ctx.lineTo(a.right, ay); ctx.stroke();
      ctx.setLineDash([]);
      bigLabel(ctx, 'WU', 63, 147);
      // SMA legend box
      ctx.fillStyle = 'rgba(0,0,0,0.4)';
      ctx.beginPath(); ctx.roundRect(73, 302, 108, 24, 3); ctx.fill();
      ctx.fillStyle = '#cbcbcb';
      ctx.strokeStyle = '#a8a8a8';
      ctx.lineWidth = 1;
      ctx.beginPath(); ctx.roundRect(70.5, 299.5, 108, 24, 3); ctx.fill(); ctx.stroke();
      ctx.strokeStyle = '#0000ff';
      ctx.lineWidth = 1.3;
      ctx.beginPath(); ctx.moveTo(76, 311); ctx.lineTo(104, 311); ctx.stroke();
      ctx.fillStyle = '#000';
      ctx.font = '14px "' + FONT + '"';
      ctx.textBaseline = 'middle';
      ctx.fillText('SMA(50)', 113, 311);
      ctx.restore();
    }
  }]
});

// ---- SPY panel ----
new Chart(document.getElementById('spyChart'), {
  type: 'bar',
  data: {
    datasets: [
      { type: 'line', data: pts(spySmaMin, spySmaVal), borderColor: '#0000ff', borderWidth: 1.3,
        pointRadius: 0, order: 0, yAxisID: 'y' },
      { type: 'bar', data: candles(spyOpen, spyClose), backgroundColor: candleColor, borderWidth: 0,
        barThickness: 2.8, minBarLength: 1.5, grouped: false, order: 1, yAxisID: 'y' },
      { type: 'line', data: pts(spyVolMin, spyVolVal), borderColor: VOL, backgroundColor: VOL,
        borderWidth: 1, pointRadius: 0, fill: 'origin', order: 2, yAxisID: 'yv' }
    ]
  },
  options: {
    ...common,
    layout: layout(510, 630, 5),
    scales: {
      x: xScale(false, 5),
      y: yScale(451.12, 459.9, [452, 454, 456, 458], v => String(v), null),
      yv: { type: 'linear', display: false, min: 0, max: 3000 }
    }
  },
  plugins: [panelBg, {
    id: 'spyDecor',
    afterDatasetsDraw(chart) {
      const { ctx } = chart;
      ctx.save();
      bigLabel(ctx, 'SPY', 64, 543);
      ctx.restore();
    }
  }]
});

// ---- MACD panel ----
const macdFmt = v => v === 0 ? '0.00' : (v < 0 ? '\u2212' + Math.abs(v).toFixed(2) : v.toFixed(2));
new Chart(document.getElementById('macdChart'), {
  type: 'line',
  data: {
    datasets: [
      { data: pts(macdMin, macdVal), borderColor: '#000', borderWidth: 2.6, pointRadius: 0, order: 0 },
      { data: pts(signalMin, signalVal), borderColor: '#0000ff', borderWidth: 1, pointRadius: 0, order: 1 },
      { data: pts(histMin, histVal), borderColor: 'rgba(95,115,115,0.7)',
        backgroundColor: 'rgba(95,115,115,0.62)', borderWidth: 1, pointRadius: 0, fill: 'origin', order: 2 }
    ]
  },
  options: {
    ...common,
    layout: layout(630, 706, 62),
    scales: {
      x: xScale(true, 62),
      y: yScale(-0.0967, 0.0848, [-0.08, -0.04, 0, 0.04, 0.08], macdFmt, null)
    }
  },
  plugins: [panelBg, {
    id: 'macdDecor',
    afterDatasetsDraw(chart) {
      const { ctx } = chart;
      ctx.save();
      ctx.fillStyle = '#000';
      ctx.font = '12.5px "' + FONT + '"';
      ctx.textBaseline = 'middle';
      ctx.fillText('MACD (12, 26, 9)', 97, 643);
      ctx.restore();
    }
  }]
});
</script>
</body>
</html>
